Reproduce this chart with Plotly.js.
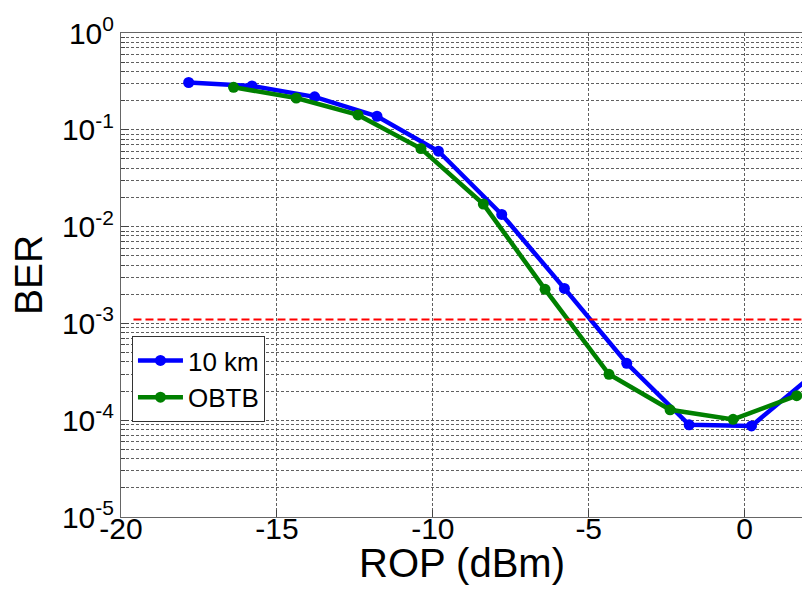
<!DOCTYPE html>
<html><head><meta charset="utf-8">
<script src="https://cdn.plot.ly/plotly-3.0.1.min.js"></script>
<style>html,body{margin:0;padding:0;overflow:hidden;background:#fff}#chart{width:802px;height:589px}</style>
</head><body><div id="chart"></div>
<script>
// Data
const km10X = [-17.83, -15.80, -13.79, -11.79, -9.82, -7.79, -5.78, -3.78, -1.78, 0.22, 2.22];
const km10Y = [0.308, 0.284, 0.219, 0.138, 0.0601, 0.01336, 0.0023, 3.87e-4, 8.95e-5, 8.73e-5, 3.0e-4];
const obtbX = [-16.39, -14.38, -12.40, -10.38, -8.38, -6.40, -4.35, -2.39, -0.37, 1.67];
const obtbY = [0.275, 0.213, 0.1425, 0.0641, 0.01707, 2.25e-3, 2.98e-4, 1.28e-4, 1.02e-4, 1.79e-4];
const thresholdX = [-19.6, 5];
const thresholdY = [1.1e-3, 1.1e-3];
const seriesNames = ['10 km', 'OBTB'];
const xTitle = 'ROP (dBm)';
const yTitle = 'BER';
const xTickVals = [-20, -15, -10, -5, 0];
const xTickText = ['-20', '-15', '-10', '-5', '0'];
const yTickExps = [-5, -4, -3, -2, -1, 0];

const yTickVals = yTickExps.map(e => Math.pow(10, e));
const yTickText = yTickExps.map(e => '10<sup>' + e + '</sup>');
const yMinorVals = [];
yTickExps.slice(0, -1).forEach(e => { for (let m = 2; m <= 9; m++) yMinorVals.push(m * Math.pow(10, e)); });

const FONT = 'Liberation Sans, Arial, sans-serif';
const gridCol = '#606060';

const traces = [
  {x: km10X, y: km10Y, name: seriesNames[0], mode: 'lines+markers', type: 'scatter',
   line: {color: '#0000ff', width: 4.5}, marker: {color: '#0000ff', size: 11, symbol: 'circle'}},
  {x: obtbX, y: obtbY, name: seriesNames[1], mode: 'lines+markers', type: 'scatter',
   line: {color: '#008000', width: 4.5}, marker: {color: '#008000', size: 11, symbol: 'circle'}},
  {x: thresholdX, y: thresholdY, mode: 'lines', type: 'scatter', showlegend: false, hoverinfo: 'skip',
   line: {color: '#ff0000', width: 2, dash: '8px,4px'}}
];

const layout = {
  width: 802, height: 589,
  margin: {l: 120.7, r: 0, t: 32.7, b: 71.7, pad: 0},
  paper_bgcolor: '#fff', plot_bgcolor: '#fff',
  font: {family: FONT, color: '#000', size: 30},
  showlegend: true,
  legend: {x: 0.0161, y: 0.374, xanchor: 'left', yanchor: 'top',
           bgcolor: '#fff', bordercolor: '#333', borderwidth: 1, itemwidth: 45,
           font: {family: FONT, size: 26, color: '#000'}, tracegroupgap: 0},
  xaxis: {
    range: [-20, 1.84], showline: true, mirror: true, linecolor: '#666', linewidth: 1,
    tickmode: 'array', tickvals: xTickVals, ticktext: xTickText,
    ticks: 'inside', ticklen: 7, tickcolor: '#444', ticklabelstandoff: -15,
    showgrid: true, gridcolor: gridCol, griddash: '3px,2px', gridwidth: 1,
    zeroline: false,
    tickfont: {family: FONT, size: 30, color: '#000'}
  },
  yaxis: {
    type: 'log', range: [-5, 0], showline: true, mirror: false, linecolor: '#666', linewidth: 1,
    tickmode: 'array', tickvals: yTickVals, ticktext: yTickText,
    ticks: 'inside', ticklen: 8, tickcolor: '#444',
    showgrid: true, gridcolor: gridCol, griddash: '3px,2px', gridwidth: 1,
    minor: {tickmode: 'array', tickvals: yMinorVals, showgrid: true, gridcolor: gridCol,
            griddash: '3px,2px', gridwidth: 1, ticks: 'inside', ticklen: 4, tickcolor: '#444'},
    zeroline: false,
    tickfont: {family: FONT, size: 30, color: '#000'},
    title: {text: yTitle, font: {family: FONT, size: 39, color: '#000'}, standoff: 7}
  },
  annotations: [
    {text: xTitle, xref: 'paper', yref: 'paper', x: 0.5, y: 0, xanchor: 'center', yanchor: 'middle',
     yshift: -46, showarrow: false, font: {family: FONT, size: 40, color: '#000'}}
  ]
};

Plotly.newPlot('chart', traces, layout, {displayModeBar: false, staticPlot: true});
</script>
</body></html>
